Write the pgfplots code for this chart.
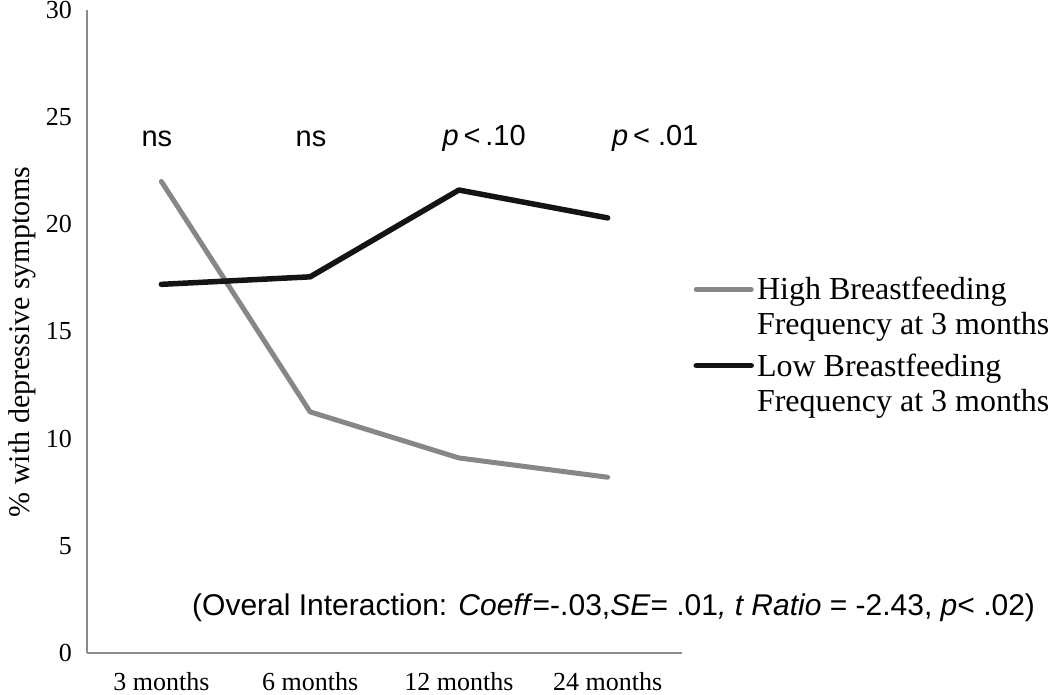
\documentclass[border=0pt]{standalone}
\usepackage{fontspec}
\setmainfont{Liberation Serif}
\newfontfamily\arial{Liberation Sans}
\usepackage{pgfplots}
\pgfplotsset{compat=1.18}
\definecolor{hiGray}{RGB}{135,135,135}
\definecolor{axGray}{RGB}{140,140,140}
\definecolor{loBlack}{RGB}{20,20,20}
\begin{document}
\begin{tikzpicture}
\useasboundingbox (-87pt,-42pt) rectangle (963pt,653pt);
\begin{axis}[
 at={(0pt,0pt)}, anchor=south west,
 scale only axis, width=595pt, height=643pt,
 xmin=-0.5, xmax=3.5, ymin=0, ymax=30,
 axis x line=bottom, axis y line=left,
 axis line style={-, axGray, line width=2pt},
 xtick={0,1,2,3}, xticklabels={3 months,6 months,12 months,24 months},
 ytick={0,5,...,30},
 major tick length=0pt,
 tick style={draw=none},
 /pgf/number format/assume math mode=true,
 ticklabel style={font=\fontsize{26}{30}\selectfont, inner sep=0pt},
 yticklabel style={xshift=-15pt},
 xticklabel style={anchor=base, yshift=-38pt},
 ylabel={\% with depressive symptoms},
 every axis y label/.style={at={(axis description cs:0,0.484)}, xshift=-65pt, rotate=90, anchor=center, font=\fontsize{30}{34}\selectfont},
 legend style={draw=none, fill=none, at={(1.019,0.479)}, anchor=west, inner sep=0pt,
   font=\fontsize{32}{35}\selectfont, row sep=17pt, column sep=3pt,
   cells={align=left}, nodes={inner sep=0pt}},
 legend cell align=left,
 legend image code/.code={\draw[#1] (0pt,17.5pt) -- (55pt,17.5pt);},
 clip=false,
]
\addplot[hiGray, line width=5pt, line cap=round, line join=round] coordinates {(0,22.0) (1,11.25) (2,9.1) (3,8.2)};
\addlegendentry{High Breastfeeding\\Frequency at 3 months}
\addplot[loBlack, line width=5.5pt, line cap=round, line join=round] coordinates {(0,17.2) (1,17.55) (2,21.6) (3,20.3)};
\addlegendentry{Low Breastfeeding\\Frequency at 3 months}

\node[font=\arial\fontsize{29}{31}\selectfont] at (axis cs:-0.03,24.0) {ns};
\node[font=\arial\fontsize{29}{31}\selectfont] at (axis cs:1.006,24.0) {ns};
\node[font=\arial\fontsize{29}{31}\selectfont] at (axis cs:2.17,24.0) {\textit{p}\,<\,.10};
\node[font=\arial\fontsize{29}{31}\selectfont] at (axis cs:3.32,24.0) {\textit{p}\,< .01};
\node[anchor=west, inner sep=0pt, font=\arial\fontsize{30}{32}\selectfont] at (axis cs:0.206,2.1) {(Overal Interaction: \textit{Coeff}=-.03,\textit{SE}= .01\textit{, t Ratio} = -2.43, \textit{p}< .02)};
\end{axis}
\end{tikzpicture}
\end{document}
